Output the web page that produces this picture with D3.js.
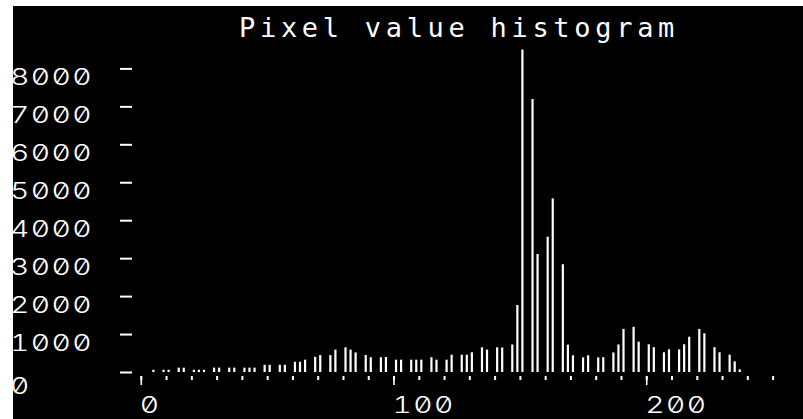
<!DOCTYPE html>
<html>
<head>
<meta charset="utf-8">
<script src="https://cdn.jsdelivr.net/npm/d3@7"></script>
<style>
  html, body { margin: 0; padding: 0; background: #fff; }
  svg { display: block; }
  text { fill: #fff; }
  .title { font-family: "DejaVu Sans Mono", monospace; }
  .num { font-family: Inter, "DejaVu Sans Mono", monospace; font-weight: 300;
         font-feature-settings: "tnum" 1, "zero" 1; }
</style>
</head>
<body>
<svg id="chart" width="803" height="419"></svg>
<script>
// Histogram bins (width 2), given by bin centre and pixel count
const binCenters = [
  5, 9, 11, 15, 17, 21, 23, 25, 29, 31, 35, 37, 41, 43, 45, 49, 51, 55, 57,
  61, 63, 65, 69, 71, 75, 77, 81, 83, 85, 89, 91, 95, 97, 101, 103, 107, 109,
  111, 115, 117, 121, 123, 127, 129, 131, 135, 137, 141, 143, 147, 149, 151,
  155, 157, 161, 163, 167, 169, 171, 175, 177, 181, 183, 187, 189, 191, 195,
  197, 201, 203, 207, 209, 213, 215, 217, 221, 223, 227, 229, 233, 235, 237
];
const binCounts = [
  60, 60, 60, 115, 115, 60, 60, 60, 115, 115, 115, 115, 115, 115, 115, 190, 190, 190, 190,
  270, 270, 325, 400, 445, 445, 590, 650, 590, 515, 450, 390, 390, 395, 325, 325, 325, 325,
  325, 390, 325, 325, 455, 455, 455, 520, 650, 590, 650, 645, 725, 1765, 8500,
  7195, 3110, 3565, 4575, 2840, 720, 440, 385, 440, 385, 390, 515, 725, 1135, 1190,
  800, 730, 655, 520, 595, 595, 730, 930, 1135, 1020, 655, 520, 455, 280, 70
];

// Axis ticks
const yTickValues = [0, 1000, 2000, 3000, 4000, 5000, 6000, 7000, 8000];
const xMinorTicks = [0, 10, 20, 30, 40, 50, 60, 70, 80, 90, 100, 110, 120,
                     130, 140, 150, 160, 170, 180, 190, 200, 210, 220, 230, 240, 250];
const xMajorTicks = [0, 100, 200];
const titleText = "Pixel value histogram";

// Wide, light numerals: glyphs are stretched horizontally
const numScale = 1.3;
const numSize = 23;
const numSpacing = 1.1;

const svg = d3.select("#chart");

// Black plotting surface
svg.append("rect")
  .attr("x", 13).attr("y", 6)
  .attr("width", 790).attr("height", 413)
  .attr("fill", "#000");

const x = d3.scaleLinear().domain([0, 250]).range([140.8, 772.6]);
const y = d3.scaleLinear().domain([0, 8000]).range([372, 68.4]);

// Title
svg.append("text")
  .attr("class", "title")
  .attr("x", 239).attr("y", 37)
  .attr("font-size", 27)
  .attr("letter-spacing", 4.7)
  .text(titleText);

function styleNumbers(sel, xPos, yPos) {
  sel.attr("class", "num")
    .attr("dy", null)
    .attr("text-anchor", "start")
    .attr("font-size", numSize)
    .attr("letter-spacing", numSpacing)
    .attr("font-family", null)
    .attr("fill", null)
    .attr("x", xPos / numScale)
    .attr("y", yPos)
    .attr("transform", `scale(${numScale},1)`);
}

// Y axis: detached dashes with labels at the far left
const yAxis = svg.append("g")
  .attr("transform", "translate(132,0)")
  .call(d3.axisLeft(y).tickValues(yTickValues).tickSize(12).tickFormat(d3.format("d")));
yAxis.select(".domain").remove();
yAxis.selectAll(".tick line").attr("stroke", "#fff").attr("stroke-width", 2);
yAxis.selectAll(".tick text").each(function(d) {
  styleNumbers(d3.select(this), -122, d === 0 ? 21 : 16);
});

// X axis: minor ticks every 10, longer labelled ticks every 100
const xMinor = svg.append("g")
  .attr("transform", "translate(0,376)")
  .call(d3.axisBottom(x).tickValues(xMinorTicks).tickSize(4).tickFormat(""));
xMinor.select(".domain").remove();
xMinor.selectAll(".tick line").attr("stroke", "#fff").attr("stroke-width", 2);

const xMajor = svg.append("g")
  .attr("transform", "translate(0,376)")
  .call(d3.axisBottom(x).tickValues(xMajorTicks).tickSize(9).tickFormat(d3.format("d")));
xMajor.select(".domain").remove();
xMajor.selectAll(".tick line").attr("stroke", "#fff").attr("stroke-width", 1.6);
xMajor.selectAll(".tick text").each(function() {
  styleNumbers(d3.select(this), -1.5, 37);
});

// Bars
const bins = binCenters.map((c, i) => ({ c, n: binCounts[i] }));
svg.append("g")
  .selectAll("rect")
  .data(bins)
  .join("rect")
  .attr("x", d => x(d.c) - 1.1)
  .attr("width", 2.2)
  .attr("y", d => y(d.n))
  .attr("height", d => y(0) - y(d.n))
  .attr("fill", "#fff");
</script>
</body>
</html>
